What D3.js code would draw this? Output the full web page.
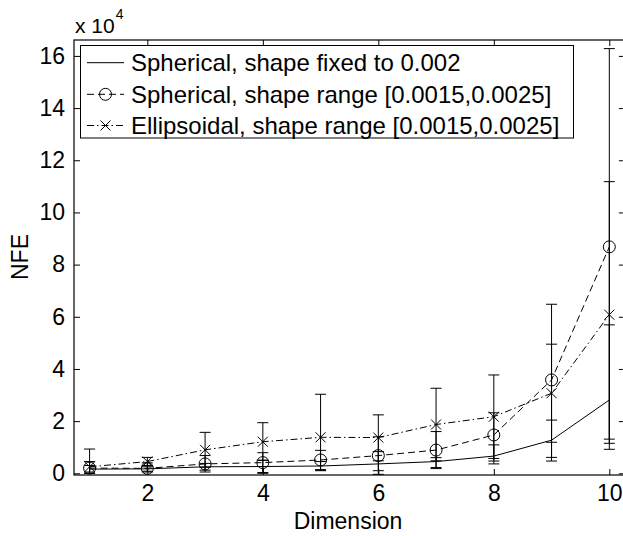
<!DOCTYPE html>
<html><head><meta charset="utf-8">
<script src="https://cdn.jsdelivr.net/npm/d3@7"></script>
<style>body{margin:0;background:#fff}svg{display:block;font-family:"Liberation Sans",Arial,Helvetica,sans-serif}</style>
</head><body>
<svg id="c" width="623" height="536"></svg>
<script>
// Data (NFE in units of 10^4)
const dims = [1,2,3,4,5,6,7,8,9,10];
const xTicks = [2,4,6,8,10];
const yTicks = [0,2,4,6,8,10,12,14,16];
const seriesNames = ["Spherical, shape fixed to 0.002","Spherical, shape range [0.0015,0.0025]","Ellipsoidal, shape range [0.0015,0.0025]"];
const fixedMean  = [0.16,0.17,0.25,0.26,0.28,0.36,0.45,0.66,1.27,2.81];
const fixedLow   = [0.05,0.08,0.12,0.00,0.12,0.10,0.22,0.36,0.47,1.31];
const fixedHigh  = [0.30,0.30,0.38,0.50,0.45,0.83,0.60,1.09,2.04,5.69];
const sphMean    = [0.20,0.19,0.36,0.41,0.51,0.68,0.89,1.47,3.58,8.68];
const sphLow     = [0.00,0.05,0.05,0.03,0.14,-0.04,0.18,0.47,0.61,1.15];
const sphHigh    = [0.45,0.40,0.68,0.79,0.88,1.40,1.60,2.32,6.48,16.28];
const ellMean    = [0.25,0.45,0.90,1.21,1.38,1.37,1.87,2.17,3.07,6.08];
const ellLow     = [0.00,0.25,0.23,0.50,0.10,0.48,0.48,0.57,1.19,0.92];
const ellHigh    = [0.93,0.61,1.57,1.94,3.03,2.24,3.26,3.77,4.95,11.18];

const svg = d3.select("#c");
const L=74, R=624.9, T=40, B=475;
const x = d3.scaleLinear().domain([0.73,10.27]).range([L,R]);
const y = d3.scaleLinear().domain([-0.065,16.61]).range([B,T]);

const series = [
  {name:seriesNames[0], mean:fixedMean, lo:fixedLow, hi:fixedHigh, dash:null, marker:"none"},
  {name:seriesNames[1], mean:sphMean, lo:sphLow, hi:sphHigh, dash:"7,4", marker:"circle"},
  {name:seriesNames[2], mean:ellMean, lo:ellLow, hi:ellHigh, dash:"7,3,1.5,3", marker:"cross"}
];

// axes
const fs = 23;
svg.append("g").attr("transform",`translate(0,${B})`)
  .call(d3.axisBottom(x).tickValues(xTicks).tickSizeInner(-6).tickSizeOuter(0).tickPadding(10).tickFormat(d3.format("d")));
svg.append("g").attr("transform",`translate(0,${T})`)
  .call(d3.axisTop(x).tickValues(xTicks).tickSizeInner(-6).tickSizeOuter(0).tickFormat(""));
svg.append("g").attr("transform",`translate(${L},0)`)
  .call(d3.axisLeft(y).tickValues(yTicks).tickSizeInner(-6).tickSizeOuter(0).tickPadding(9).tickFormat(d3.format("d")));
svg.append("g").attr("transform",`translate(${R},0)`)
  .call(d3.axisRight(y).tickValues(yTicks).tickSizeInner(-6).tickSizeOuter(0).tickFormat(""));
svg.selectAll(".domain").remove();
svg.selectAll(".tick line").attr("stroke","#000").attr("stroke-width",1);
svg.selectAll(".tick text").attr("font-size",fs).attr("fill","#000").attr("font-family","Liberation Sans, Arial, sans-serif");
svg.append("rect").attr("x",L).attr("y",T).attr("width",R-L).attr("height",B-T)
  .attr("fill","none").attr("stroke","#000").attr("stroke-width",1.2);

// plot
const plot = svg.append("g");
series.forEach(s=>{
  const line = d3.line().x((d,i)=>x(dims[i])).y(d=>y(d));
  const cap = 5.5;
  dims.forEach((dm,i)=>{
    const cx = x(dm), y1 = y(s.hi[i]), y0 = y(s.lo[i]);
    plot.append("line").attr("x1",cx).attr("x2",cx).attr("y1",y1).attr("y2",y0).attr("stroke","#000").attr("stroke-width",1);
    plot.append("line").attr("x1",cx-cap).attr("x2",cx+cap).attr("y1",y1).attr("y2",y1).attr("stroke","#000").attr("stroke-width",1);
    plot.append("line").attr("x1",cx-cap).attr("x2",cx+cap).attr("y1",y0).attr("y2",y0).attr("stroke","#000").attr("stroke-width",1);
  });
  plot.append("path").datum(s.mean).attr("d",line).attr("fill","none").attr("stroke","#000")
    .attr("stroke-width",1).attr("stroke-dasharray",s.dash);
  dims.forEach((dm,i)=>drawMarker(plot, s.marker, x(dm), y(s.mean[i])));
});

function drawMarker(g, type, cx, cy){
  if(type==="circle"){
    g.append("circle").attr("cx",cx).attr("cy",cy).attr("r",6).attr("fill","none").attr("stroke","#000").attr("stroke-width",1);
  } else if(type==="cross"){
    const r=5;
    g.append("path").attr("d",`M${cx-r},${cy-r}L${cx+r},${cy+r}M${cx-r},${cy+r}L${cx+r},${cy-r}`)
      .attr("stroke","#000").attr("stroke-width",1).attr("fill","none");
  }
}

// legend
const lg = svg.append("g");
lg.append("rect").attr("x",80.5).attr("y",45.5).attr("width",493).attr("height",92.5)
  .attr("fill","#fff").attr("stroke","#000").attr("stroke-width",1);
const rowY = [62.7, 94.3, 125.5];
series.forEach((s,i)=>{
  lg.append("line").attr("x1",87).attr("x2",124).attr("y1",rowY[i]).attr("y2",rowY[i])
    .attr("stroke","#000").attr("stroke-width",1).attr("stroke-dasharray",s.dash);
  drawMarker(lg, s.marker, 105.5, rowY[i]);
  lg.append("text").attr("x",131).attr("y",rowY[i]+8.5).attr("font-size",24).attr("fill","#000").text(s.name);
});

// labels
svg.append("text").attr("x",348).attr("y",529).attr("text-anchor","middle").attr("font-size",fs).text("Dimension");
svg.append("text").attr("transform",`translate(28,257) rotate(-90)`).attr("text-anchor","middle").attr("font-size",fs).text("NFE");
const mult = svg.append("text").attr("x",75).attr("y",33).attr("font-size",21);
mult.append("tspan").text("x 10");
mult.append("tspan").attr("dy",-14).attr("dx",1).attr("font-size",14).text("4");
</script>
</body></html>
